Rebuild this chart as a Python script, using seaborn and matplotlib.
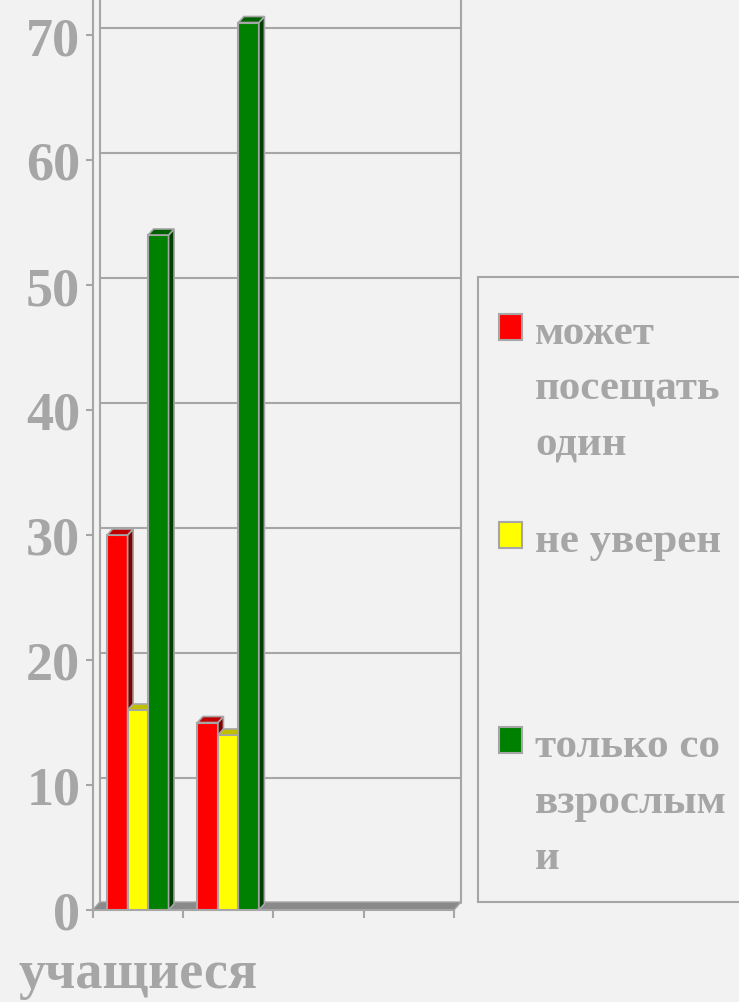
import numpy as np
import pandas as pd
import matplotlib
matplotlib.use("Agg")
import matplotlib.pyplot as plt
from matplotlib.patches import Polygon, Rectangle
from matplotlib.transforms import ScaledTranslation
import seaborn as sns

# ---------------- data ----------------
slot_labels = ["учащиеся", "", "", ""]          # category tick labels (4 slots)
series = ["может посещать один", "не уверен", "только со взрослыми"]
legend_labels = ["может\nпосещать\nодин", "не уверен", "только со\nвзрослым\nи"]
vals_alone = [30, 15]        # slot 0, slot 1
vals_unsure = [16, 14]
vals_adults = [54, 71]
y_ticks = [0, 10, 20, 30, 40, 50, 60, 70]

colors = ["#FF0000", "#FFFF00", "#008000"]
top_colors = ["#C00000", "#C0C000", "#006000"]
side_colors = ["#800000", "#808000", "#004000"]

rows = []
for s, v in zip(series, [vals_alone, vals_unsure, vals_adults]):
    for slot, val in enumerate(v):
        rows.append({"slot": slot, "series": s, "value": val})
df = pd.DataFrame(rows)

# ---------------- style ----------------
sns.set_theme(style="white")
GRAY = "#A6A6A6"
BG = "#F2F2F2"
FONT = ["Liberation Serif", "DejaVu Serif"]
plt.rcParams["font.family"] = FONT

W, H, DPI = 739, 1003, 100
fig = plt.figure(figsize=(W / DPI, H / DPI), dpi=DPI, facecolor=BG)

ax_l, ax_r, ax_b, ax_t = 92.7, 454.0, 911.0, 0.0
ax = fig.add_axes([ax_l / W, 1 - ax_b / H, (ax_r - ax_l) / W, (ax_b - ax_t) / H])
ax.set_facecolor(BG)

sns.barplot(data=df, x="slot", y="value", hue="series", order=[0, 1, 2, 3],
            hue_order=series, palette=colors, saturation=1, width=0.68, edgecolor=GRAY,
            linewidth=1.5, errorbar=None, legend=False, ax=ax, zorder=3)

ax.set_xlim(-0.5, 3.5)
ax.set_ylim(0, (ax_b - ax_t) / 12.5)

# pixel -> data conversions
px_per_x = (ax_r - ax_l) / 4.0
px_per_y = 12.5
bar_dx, bar_dy = 5.5 / px_per_x, 6.0 / px_per_y

# 3D faces for bars
bars = [p for p in ax.patches if np.isfinite(p.get_height()) and p.get_height() > 0]
for p in bars:
    x, w, h = p.get_x(), p.get_width(), p.get_height()
    fc = np.array(matplotlib.colors.to_rgb(p.get_facecolor()))
    k = int(np.argmin([np.sum((fc - np.array(matplotlib.colors.to_rgb(c))) ** 2) for c in colors]))
    z = 3 + 0.1 * (x + 1)
    p.set_zorder(z)
    side = Polygon([(x + w, 0), (x + w + bar_dx, bar_dy), (x + w + bar_dx, h + bar_dy), (x + w, h)],
                   closed=True, facecolor=side_colors[k], edgecolor=GRAY, linewidth=1.2, zorder=z)
    top = Polygon([(x, h), (x + bar_dx, h + bar_dy), (x + w + bar_dx, h + bar_dy), (x + w, h)],
                  closed=True, facecolor=top_colors[k], edgecolor=GRAY, linewidth=1.2, zorder=z)
    ax.add_patch(side)
    ax.add_patch(top)

# back wall (offset 7px up-right)
wall_off = ScaledTranslation(7 / DPI, 7 / DPI, fig.dpi_scale_trans)
ytr = ax.get_yaxis_transform() + wall_off
for yv in y_ticks[1:]:
    ax.plot([0, 1], [yv, yv], transform=ytr, color=GRAY, lw=1.5, zorder=1, clip_on=False)
ax.plot([0, 0], [0, 1], transform=ax.transAxes + wall_off, color=GRAY, lw=1.5, zorder=1, clip_on=False)
ax.plot([1, 1], [0, 1], transform=ax.transAxes + wall_off, color=GRAY, lw=1.5, zorder=1, clip_on=False)

# floor
dxa, dya = 7 / (ax_r - ax_l), 8 / (ax_b - ax_t)
floor = Polygon([(0, 0), (1, 0), (1 + dxa, dya), (dxa, dya)], closed=True,
                transform=ax.transAxes, facecolor="#8A8A8A", edgecolor=GRAY,
                linewidth=1.0, zorder=2, clip_on=False)
ax.add_patch(floor)

# spines
for s in ["top", "right"]:
    ax.spines[s].set_visible(False)
for s in ["left", "bottom"]:
    ax.spines[s].set_color(GRAY)
    ax.spines[s].set_linewidth(1.5)
    ax.spines[s].set_zorder(2.5)

# ticks
ax.set_yticks(y_ticks)
ax.set_yticklabels([str(v) for v in y_ticks])
ax.tick_params(axis="y", left=True, length=5, width=1.5, color=GRAY, pad=4,
               labelsize=39, labelcolor=GRAY)
for t in ax.get_yticklabels():
    t.set_fontweight("bold")

ax.set_xticks([-0.5, 0.5, 1.5, 2.5, 3.5])
ax.set_xticklabels([])
ax.set_xticks([0, 1, 2, 3], minor=True)
ax.set_xticklabels(slot_labels, minor=True)
ax.tick_params(axis="x", which="major", bottom=True, length=6, width=1.5, color=GRAY)
ax.tick_params(axis="x", which="minor", bottom=False, length=0, pad=28,
               labelsize=39, labelcolor=GRAY)
for t in ax.get_xticklabels(minor=True):
    t.set_fontweight("bold")
ax.set_xlabel("")
ax.set_ylabel("")
ax.grid(False)

# ---------------- legend (manual, right) ----------------
def fx(x):
    return x / W

def fy(y):
    return 1 - y / H

fig.patches.append(Rectangle((fx(478), fy(903)), fx(780) - fx(478), fy(278) - fy(903),
                             transform=fig.transFigure, facecolor=BG, edgecolor=GRAY,
                             linewidth=1.5, zorder=0))
sq_centers = [328, 536, 741]
for k, (lab, cy) in enumerate(zip(legend_labels, sq_centers)):
    fig.patches.append(Rectangle((fx(499), fy(cy + 13)), fx(522) - fx(499), fy(cy - 13) - fy(cy + 13),
                                 transform=fig.transFigure, facecolor=colors[k],
                                 edgecolor=GRAY, linewidth=1.5, zorder=1))
    fig.text(fx(535), fy(cy - 13), lab, ha="left", va="top", fontsize=31,
             fontweight="bold", color=GRAY, linespacing=1.62, family=FONT)

fig.savefig("out.png", dpi=DPI, facecolor=BG)
